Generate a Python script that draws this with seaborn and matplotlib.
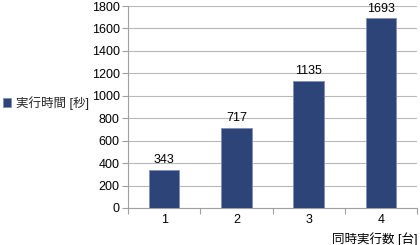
import matplotlib
matplotlib.use("Agg")
import matplotlib.pyplot as plt
import seaborn as sns
import pandas as pd
import numpy as np

categories = ["1", "2", "3", "4"]
values = [343, 717, 1135, 1693]
series_name = "実行時間 [秒]"
x_label = "同時実行数 [台]"
y_ticks = [0, 200, 400, 600, 800, 1000, 1200, 1400, 1600, 1800]

sns.set_theme(style="white")
plt.rcParams['font.family'] = ['Liberation Sans', 'Noto Sans CJK JP', 'DejaVu Sans']

df = pd.DataFrame({"cat": categories, "val": values})

fig = plt.figure(figsize=(4.2, 2.45), dpi=100)
ax = fig.add_axes([128/420, 1-208/245, (417-128)/420, (208-6)/245])

bar_color = "#2D4479"
sns.barplot(data=df, x="cat", y="val", color=bar_color, width=0.42, ax=ax,
            edgecolor="#7F8FB5", linewidth=0.6, saturation=1, label=series_name, zorder=3)

ax.set_ylim(0, 1800)
ax.set_yticks(y_ticks)
ax.set_xlim(-0.5, 3.5)
ax.grid(axis="y", color="#B8B8B8", linewidth=0.8, zorder=0)
ax.set_axisbelow(True)

for s in ["top", "right"]:
    ax.spines[s].set_visible(False)
for s in ["left", "bottom"]:
    ax.spines[s].set_color("#A0A0A0")
    ax.spines[s].set_linewidth(0.8)

ax.tick_params(axis="y", which="major", direction="out", length=4, width=0.8, color="#A0A0A0",
               labelsize=9, labelcolor="black", pad=2, left=True)
ax.tick_params(axis="x", which="major", length=0, labelsize=9, labelcolor="black", pad=4)
ax.set_xticks(np.arange(-0.5, 4.0, 1.0), minor=True)
ax.tick_params(axis="x", which="minor", direction="out", length=4, width=0.8, color="#A0A0A0", bottom=True)

for i, v in enumerate(values):
    ax.text(i, v + 30, str(v), ha="center", va="bottom", fontsize=9, color="black")

ax.set_ylabel("")
ax.set_xlabel(x_label, loc="right", fontsize=9, color="black", labelpad=5)

handles, labels = ax.get_legend_handles_labels()
if ax.get_legend() is not None:
    ax.get_legend().remove()
fig.legend(handles[:1], [series_name], loc="center left", bbox_to_anchor=(0.0, 1-103/245),
           frameon=False, fontsize=9, handlelength=0.7, handleheight=0.7, handletextpad=0.4,
           borderaxespad=0, borderpad=0.2)

fig.savefig("out.png", dpi=100)
